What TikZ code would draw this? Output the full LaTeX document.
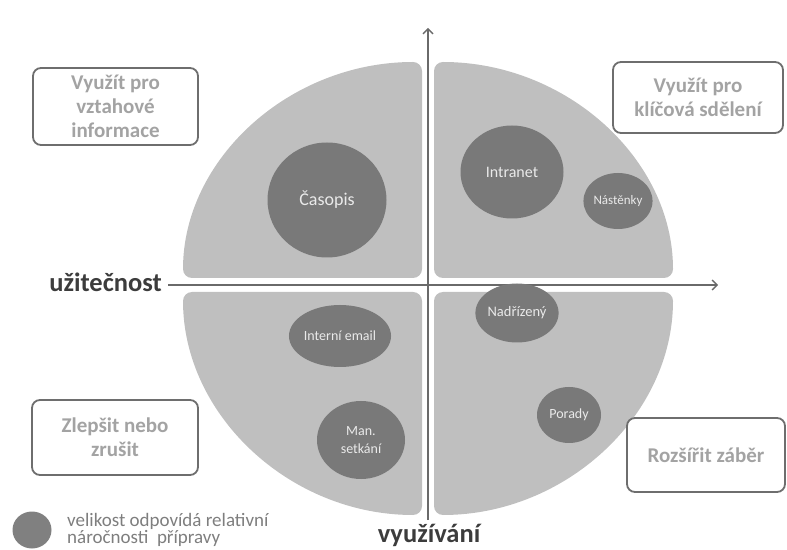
\documentclass[tikz,border=0pt]{standalone}
\usepackage{fontspec}
\setmainfont{Carlito}
\usetikzlibrary{arrows.meta,shapes.geometric}
\definecolor{quadgray}{HTML}{BFBFBF}
\definecolor{bubgray}{HTML}{797979}
\definecolor{bubtext}{HTML}{EAEAEA}
\definecolor{axgray}{HTML}{6A6A6A}
\definecolor{boxline}{HTML}{6E6E6E}
\definecolor{boxtext}{HTML}{A3A3A3}
\definecolor{labtext}{HTML}{3C3C3C}
\definecolor{legtext}{HTML}{7E7E7E}

\begin{document}
\begin{tikzpicture}[
  x=1pt, y=1pt,
  quad/.style={fill=quadgray, rounded corners=9pt},
  bub/.style={ellipse, fill=bubgray, text=bubtext, inner sep=0pt, align=center},
  note/.style={rectangle, rounded corners=8pt, draw=boxline, line width=1.8pt, fill=white, text=boxtext,
    font=\fontsize{21}{24}\selectfont\bfseries, align=center},
  axlab/.style={text=labtext, inner sep=1pt, font=\fontsize{26.5}{30}\selectfont\bfseries},
  axis/.style={draw=axgray, line width=1.6pt, -{Straight Barb[length=5pt,width=10pt,line width=1.4pt]}}
]
\useasboundingbox (0,0) rectangle (787,549);
\fill[quad] (422,271) -- (183,271) arc[start angle=180, end angle=90, x radius=239, y radius=216] -- cycle;
\fill[quad] (434,271) -- (673,271) arc[start angle=0, end angle=90, x radius=239, y radius=216] -- cycle;
\fill[quad] (422,257) -- (183,257) arc[start angle=180, end angle=270, x radius=239, y radius=223] -- cycle;
\fill[quad] (434,257) -- (673,257) arc[start angle=0, end angle=-90, x radius=239, y radius=223] -- cycle;

\node[axlab, anchor=east] (uzit) at (163,267) {užitečnost};
\node[axlab]              (vyuz) at (429,14)  {využívání};
\coordinate (xend) at (718,264);
\coordinate (ybot) at (428,29);
\coordinate (ytop) at (428,521);
\draw[axis] ([xshift=5pt]uzit.east |- xend) -- (xend);
\draw[axis] (ybot) -- (ytop);

\node[bub, minimum width=119pt, minimum height=115pt, font=\fontsize{18}{20}\selectfont] (casopis)   at (327,349) {Časopis};
\node[bub, minimum width=103pt, minimum height=93pt,  font=\fontsize{16}{18}\selectfont] (intranet)  at (512,377) {Intranet};
\node[bub, minimum width=59pt,  minimum height=56pt,  font=\fontsize{13}{15}\selectfont] (nastenky)  at (618,348) {Nástěnky};
\node[bub, minimum width=71pt,  minimum height=62pt,  font=\fontsize{14}{16}\selectfont] (email)     at (340,213) {Interní email};
\node[bub, minimum width=88pt,  minimum height=78pt,  font=\fontsize{14}{18}\selectfont] (setkani)   at (361,109) {Man.\\setkání};
\node[bub, minimum width=62pt,  minimum height=59pt,  font=\fontsize{14.5}{16}\selectfont] (nadrizeny) at (517,236) {Nadřízený};
\node[bub, minimum width=64pt,  minimum height=56pt,  font=\fontsize{14}{16}\selectfont] (porady)    at (569,134) {Porady};

\node[note, minimum width=165pt, minimum height=77pt] (vztah)   at (115.5,442.5) {Využít pro\\vztahové\\informace};
\node[note, minimum width=170pt, minimum height=71pt] (klic)    at (698,451.5)   {Využít pro\\klíčová sdělení};
\node[note, minimum width=166pt, minimum height=75pt] (zlepsit) at (115,111.5)   {Zlepšit nebo\\zrušit};
\node[note, minimum width=158pt, minimum height=74pt] (rozsir)  at (706,94)      {Rozšířit záběr};

\node[ellipse, fill=bubgray!95!white, minimum width=39pt, minimum height=37pt, inner sep=0pt] (legbub) at (32,19) {};
\node[anchor=west, text=legtext, align=left, inner sep=0pt, font=\fontsize{19}{16}\selectfont] (legtxt) at (67,19)
  {velikost odpovídá relativní\\náročnosti\ \ přípravy};
\end{tikzpicture}
\end{document}
